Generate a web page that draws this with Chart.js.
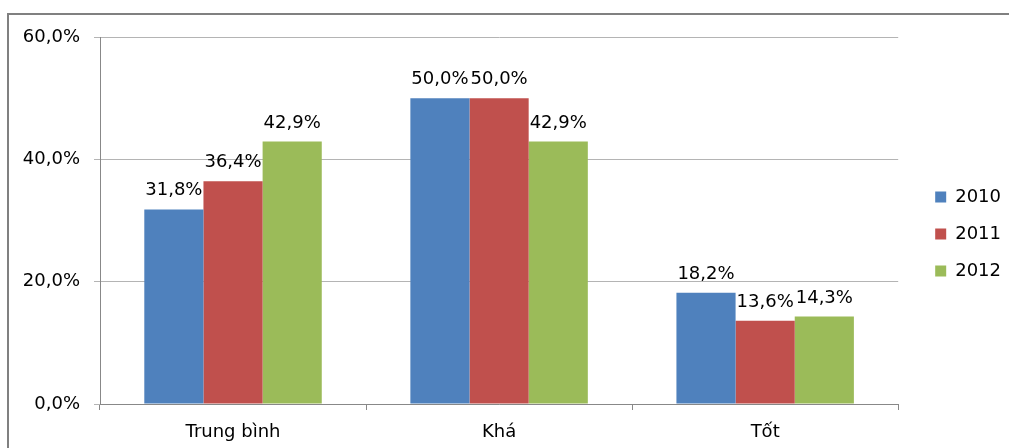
<!DOCTYPE html>
<html>
<head>
<meta charset="utf-8">
<script src="https://cdn.jsdelivr.net/npm/chart.js@4"></script>
<style>
  html, body { margin: 0; padding: 0; background: #fff; overflow: hidden; }
  #chart { display: block; }
</style>
</head>
<body>
<canvas id="chart" width="1009" height="448"></canvas>
<script>
// data
const categories = ['Trung bình', 'Khá', 'Tốt'];
const years = ['2010', '2011', '2012'];
const values2010 = [31.8, 50.0, 18.2];
const values2011 = [36.4, 50.0, 13.6];
const values2012 = [42.9, 42.9, 14.3];
const yTicks = [0, 20, 40, 60];

const colors = ['#4f81bd', '#c0504d', '#9bbb59'];
const FONT = 'DejaVu Sans';

function pct(v) {
    return v.toFixed(1).replace('.', ',') + '%';
}

// draws the value above every bar
const barLabels = {
    id: 'barLabels',
    afterDatasetsDraw(chart) {
        const ctx = chart.ctx;
        ctx.save();
        ctx.font = '18px "' + FONT + '"';
        ctx.fillStyle = '#000';
        ctx.textAlign = 'center';
        ctx.textBaseline = 'alphabetic';
        chart.data.datasets.forEach((ds, i) => {
            const meta = chart.getDatasetMeta(i);
            meta.data.forEach((bar, j) => {
                ctx.fillText(pct(ds.data[j]), bar.x, bar.y - 14);
            });
        });
        ctx.restore();
    }
};

// outer frame (left and top edge only are in view) + legend moved away from plot
const frame = {
    id: 'frame',
    beforeDraw(chart) {
        const ctx = chart.ctx;
        ctx.save();
        ctx.fillStyle = '#808080';
        ctx.fillRect(7, 13, chart.width - 7, 2);
        ctx.fillRect(7, 13, 2, chart.height - 13);
        ctx.restore();
        const lg = chart.legend;
        if (lg) {
            lg.left += 18;
            lg.right = chart.width;
        }
    }
};

const series = [values2010, values2011, values2012];

new Chart(document.getElementById('chart'), {
    type: 'bar',
    data: {
        labels: categories,
        datasets: years.map((y, i) => ({
            label: y,
            data: series[i],
            backgroundColor: colors[i],
            borderWidth: 0,
            categoryPercentage: 0.667,
            barPercentage: 1.0
        }))
    },
    options: {
        responsive: false,
        animation: false,
        devicePixelRatio: 1,
        layout: { padding: { top: 37, left: 0, right: 16, bottom: 0 } },
        plugins: {
            legend: {
                position: 'right',
                fullSize: false,
                // empty title only pushes the items down a little
                title: { display: true, text: ' ', font: { size: 10 }, padding: { top: 15, bottom: 0 } },
                labels: {
                    boxWidth: 11,
                    boxHeight: 11,
                    padding: 19,
                    color: '#000',
                    font: { family: FONT, size: 18 }
                }
            },
            tooltip: { enabled: false }
        },
        scales: {
            x: {
                grid: { display: true, drawOnChartArea: false, offset: true, tickLength: 6, color: '#888' },
                border: { color: '#888' },
                ticks: { color: '#000', padding: 12, font: { family: FONT, size: 18 } },
                afterFit: s => { s.height = 44; }
            },
            y: {
                min: 0,
                max: 60,
                afterBuildTicks: s => { s.ticks = yTicks.map(v => ({ value: v })); },
                grid: { color: '#b4b4b4', tickLength: 6 },
                border: { color: '#888' },
                ticks: { color: '#000', padding: 14, font: { family: FONT, size: 18 }, callback: v => pct(v) },
                afterFit: s => { s.width = 100; }
            }
        }
    },
    plugins: [barLabels, frame]
});
</script>
</body>
</html>
